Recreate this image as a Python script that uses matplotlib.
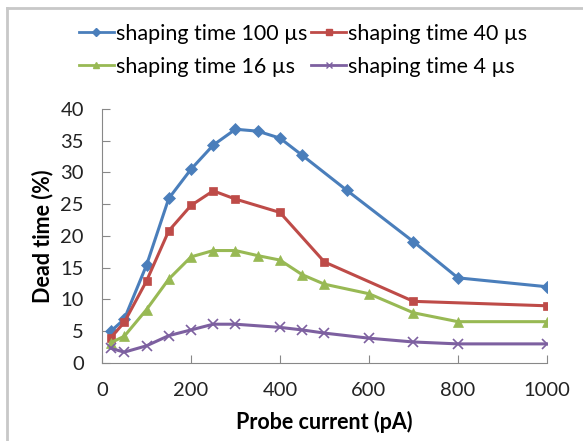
import matplotlib
matplotlib.use("Agg")
import matplotlib.pyplot as plt
from matplotlib.lines import Line2D

plt.rcParams["font.family"] = ["Lato", "DejaVu Sans"]

# data
x_100 = [20, 50, 100, 150, 200, 250, 300, 350, 400, 450, 550, 700, 800, 1000]
y_100 = [5.0, 6.9, 15.4, 25.9, 30.5, 34.3, 36.8, 36.5, 35.4, 32.7, 27.2, 19.1, 13.4, 12.0]

x_40 = [20, 50, 100, 150, 200, 250, 300, 400, 500, 700, 1000]
y_40 = [4.0, 6.4, 12.9, 20.8, 24.8, 27.1, 25.8, 23.7, 15.9, 9.7, 9.0]

x_16 = [20, 50, 100, 150, 200, 250, 300, 350, 400, 450, 500, 600, 700, 800, 1000]
y_16 = [3.2, 4.2, 8.4, 13.2, 16.7, 17.7, 17.7, 16.9, 16.2, 13.9, 12.4, 10.9, 7.9, 6.5, 6.5]

x_4 = [20, 50, 100, 150, 200, 250, 300, 400, 450, 500, 600, 700, 800, 1000]
y_4 = [2.3, 1.7, 2.7, 4.3, 5.2, 6.1, 6.1, 5.6, 5.2, 4.7, 3.9, 3.3, 3.0, 3.0]

labels = ["shaping time 100 µs", "shaping time 40 µs",
          "shaping time 16 µs", "shaping time 4 µs"]
colors = ["#4A7EBB", "#BE4B48", "#98B954", "#7D60A0"]
markers = ["D", "s", "^", "x"]
msizes = [6, 6, 7, 7]

fig = plt.figure(figsize=(5.83, 4.41), dpi=100)
ax = fig.add_axes([0.175, 0.177, 0.763, 0.576])

series = [(x_100, y_100), (x_40, y_40), (x_16, y_16), (x_4, y_4)]
for (xs, ys), c, m, ms in zip(series, colors, markers, msizes):
    ax.plot(xs, ys, color=c, lw=2.2, marker=m, ms=ms, mew=1.2 if m == "x" else 0.5,
            mec=c, mfc=c)

ax.set_xlim(0, 1000)
ax.set_ylim(0, 40)
ax.set_xticks(range(0, 1001, 200))
ax.set_yticks(range(0, 41, 5))
ax.tick_params(direction="in", length=6, color="#888888", labelsize=14.5,
               labelcolor="#222222")
ax.tick_params(axis="x", pad=14)
ax.tick_params(axis="y", pad=13)
for s in ["top", "right"]:
    ax.spines[s].set_visible(False)
for s in ["left", "bottom"]:
    ax.spines[s].set_color("#888888")

ax.set_xlabel("Probe current (pA)", fontsize=15.5, fontweight="bold", labelpad=8)
ax.set_ylabel("Dead time (%)", fontsize=15.5, fontweight="bold", labelpad=5)

# legend fills column-wise, so order handles to get rows 100/40 and 16/4
order = [0, 2, 1, 3]
handles = [Line2D([], [], color=colors[i], lw=2, marker=markers[i], ms=4,
                  mec=colors[i], mfc=colors[i]) for i in order]
fig.legend(handles, [labels[i] for i in order], loc="upper center",
           bbox_to_anchor=(0.52, 0.99), ncol=2, frameon=False, fontsize=15.5,
           handlelength=1.6, handletextpad=0.1, columnspacing=0.2,
           labelspacing=0.6)

# gray frame lines on the left and top of the picture
fig.add_artist(Line2D([0.012, 0.012], [0, 0.982], color="#C8C8C8", lw=2))
fig.add_artist(Line2D([0.012, 1.0], [0.982, 0.982], color="#C8C8C8", lw=2))

fig.savefig("out.png", dpi=100)
